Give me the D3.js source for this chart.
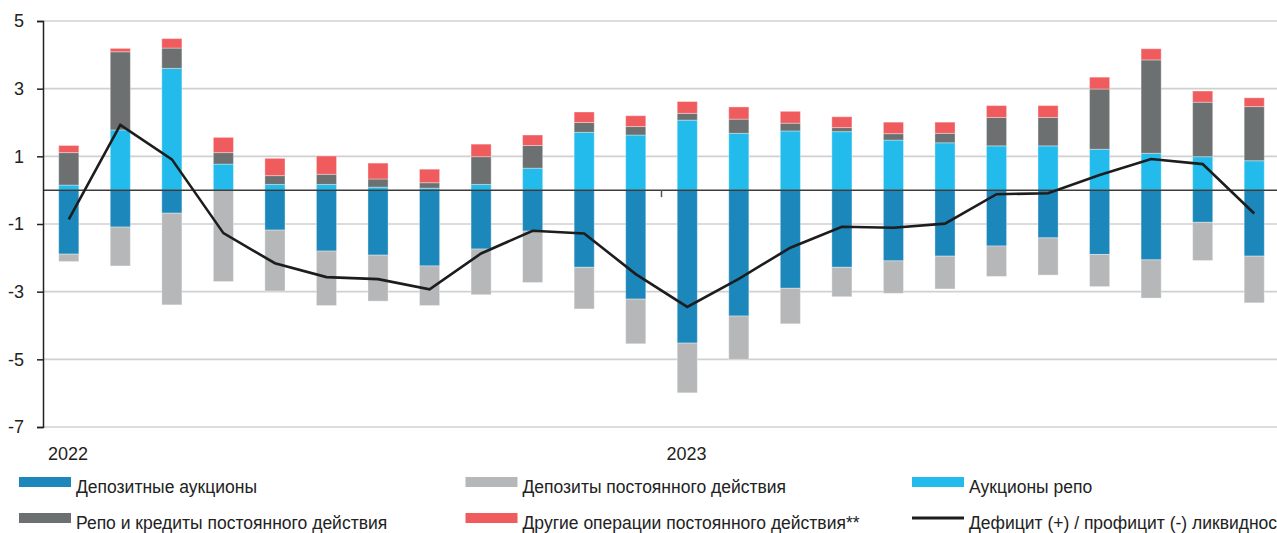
<!DOCTYPE html>
<html>
<head>
<meta charset="utf-8">
<script src="https://cdn.jsdelivr.net/npm/d3@7"></script>
<style>
    body { margin: 0; background: #fff; }
    svg text { font-family: "Liberation Sans Narrow", "Liberation Sans", Arial, sans-serif; fill: #222; }
</style>
</head>
<body>
<div id="chart"></div>
<script>
// Months, Jan 2022 .. Dec 2023
var months = ["2022-01", "2022-02", "2022-03", "2022-04", "2022-05", "2022-06",
              "2022-07", "2022-08", "2022-09", "2022-10", "2022-11", "2022-12",
              "2023-01", "2023-02", "2023-03", "2023-04", "2023-05", "2023-06",
              "2023-07", "2023-08", "2023-09", "2023-10", "2023-11", "2023-12"];
var year_labels = [["2022", "2022-01"], ["2023", "2023-01"]];
var y_ticks = [5, 3, 1, -1, -3, -5, -7];

// Trillion roubles
var deposit_auctions = [-1.89, -1.09, -0.68, 0, -1.18, -1.80, -1.92, -2.24, -1.74, -1.21, -2.28, -3.22,
                        -4.52, -3.72, -2.90, -2.28, -2.09, -1.95, -1.65, -1.41, -1.90, -2.06, -0.95, -1.95];
var standing_deposits = [-0.22, -1.15, -2.71, -2.70, -1.80, -1.61, -1.36, -1.17, -1.35, -1.52, -1.23, -1.32,
                         -1.47, -1.28, -1.05, -0.87, -0.96, -0.97, -0.90, -1.10, -0.95, -1.13, -1.13, -1.38];
var repo_auctions = [0.15, 1.78, 3.60, 0.77, 0.17, 0.17, 0.09, 0.06, 0.17, 0.65, 1.71, 1.63,
                     2.07, 1.68, 1.75, 1.73, 1.48, 1.40, 1.31, 1.31, 1.21, 1.09, 0.99, 0.87];
var repo_credits = [0.96, 2.31, 0.60, 0.34, 0.26, 0.30, 0.24, 0.16, 0.82, 0.67, 0.29, 0.25,
                    0.20, 0.42, 0.23, 0.12, 0.19, 0.28, 0.84, 0.84, 1.78, 2.76, 1.61, 1.60];
var other_ops = [0.21, 0.10, 0.28, 0.45, 0.51, 0.54, 0.47, 0.40, 0.37, 0.31, 0.31, 0.32,
                 0.35, 0.36, 0.35, 0.32, 0.34, 0.33, 0.35, 0.35, 0.35, 0.33, 0.33, 0.26];
var liquidity = [-0.86, 1.93, 0.91, -1.27, -2.16, -2.57, -2.63, -2.93, -1.87, -1.20, -1.28, -2.48,
                 -3.45, -2.62, -1.70, -1.08, -1.11, -0.99, -0.12, -0.09, 0.45, 0.92, 0.77, -0.69];

var series = [
    {name: "Депозитные аукционы", values: deposit_auctions, colour: "#1b87bb"},
    {name: "Депозиты постоянного действия", values: standing_deposits, colour: "#b6b7b9"},
    {name: "Аукционы репо", values: repo_auctions, colour: "#22bbec"},
    {name: "Репо и кредиты постоянного действия", values: repo_credits, colour: "#6d7070"},
    {name: "Другие операции постоянного действия**", values: other_ops, colour: "#f05b5e"}
];
var line_name = "Дефицит (+) / профицит (-) ликвидности";

var width = 1277, height = 533;
var plot_left = 43, plot_right = 1280, plot_top = 21, plot_bottom = 427;

var svg = d3.select("#chart").append("svg")
    .attr("width", width)
    .attr("height", height);

var x = d3.scaleBand()
    .domain(months)
    .range([plot_left, plot_right])
    .paddingInner(0.61)
    .paddingOuter(0.305);
var y = d3.scaleLinear()
    .domain([-7, 5])
    .range([plot_bottom, plot_top]);

// Gridlines
svg.append("g").selectAll("line")
    .data(y_ticks)
    .enter().append("line")
    .attr("x1", plot_left).attr("x2", width)
    .attr("y1", function(d) { return y(d); })
    .attr("y2", function(d) { return y(d); })
    .style("stroke", "#d0d0d0")
    .style("stroke-width", 1.6);

// Stack positives upward and negatives downward
var rows = months.map(function(m, i) {
    var row = {month: m};
    series.forEach(function(s) { row[s.name] = s.values[i]; });
    return row;
});
var stack = d3.stack()
    .keys(series.map(function(s) { return s.name; }))
    .offset(d3.stackOffsetDiverging);
var layers = stack(rows);

svg.append("g").selectAll("g")
    .data(layers)
    .enter().append("g")
    .style("fill", function(d, i) { return series[i].colour; })
    .selectAll("rect")
    .data(function(d) { return d; })
    .enter().append("rect")
    .attr("x", function(d) { return x(d.data.month); })
    .attr("width", x.bandwidth())
    .attr("y", function(d) { return y(d[1]); })
    .attr("height", function(d) { return Math.abs(y(d[0]) - y(d[1])); })
    .style("stroke", "rgba(255,255,255,0.35)")
    .style("stroke-width", 1);

// Zero line
svg.append("line")
    .attr("x1", plot_left).attr("x2", width)
    .attr("y1", y(0)).attr("y2", y(0))
    .style("stroke", "#3c3c3c")
    .style("stroke-width", 1.5);

// Year boundary tick and labels
var boundary = function(m) { return x(m) + x.bandwidth() / 2 - x.step() / 2; };
svg.append("line")
    .attr("x1", boundary("2023-01")).attr("x2", boundary("2023-01"))
    .attr("y1", y(0)).attr("y2", y(0) + 7)
    .style("stroke", "#555")
    .style("stroke-width", 1.5);
svg.append("g").selectAll("text")
    .data(year_labels)
    .enter().append("text")
    .attr("x", function(d) { return boundary(d[1]) + 5; })
    .attr("y", 460)
    .style("font-size", "18px")
    .text(function(d) { return d[0]; });

// Y axis (plain hyphen for negatives, as in the source)
var y_axis = svg.append("g")
    .attr("transform", "translate(" + plot_left + ",0)")
    .call(d3.axisLeft(y)
        .tickValues(y_ticks)
        .tickFormat(function(d) { return String(d); })
        .tickSize(6)
        .tickPadding(13));
y_axis.select(".domain").style("stroke", "#222").style("stroke-width", 1.5);
y_axis.selectAll(".tick line").style("stroke", "#222").style("stroke-width", 1.5);
y_axis.selectAll(".tick text")
    .style("font-size", "18px")
    .style("font-family", "'Liberation Sans Narrow', 'Liberation Sans', sans-serif")
    .style("fill", "#222");

// Liquidity line
var line = d3.line()
    .x(function(d, i) { return x(months[i]) + x.bandwidth() / 2; })
    .y(function(d) { return y(d); });
svg.append("path")
    .datum(liquidity)
    .attr("d", line)
    .style("fill", "none")
    .style("stroke", "#1d1d1d")
    .style("stroke-width", 2.6);

// Legend: 3 columns x 2 rows
var legend_items = series.map(function(s) { return {name: s.name, colour: s.colour, type: "rect"}; });
legend_items.push({name: line_name, colour: "#1d1d1d", type: "line"});
var legend = svg.selectAll(".legend")
    .data(legend_items)
    .enter().append("g")
    .attr("class", "legend")
    .attr("transform", function(d, i) {
        var horz = 19 + (i % 3) * 446.5;
        var vert = 482 + Math.floor(i / 3) * 36;
        return "translate(" + horz + "," + vert + ")";
    });
legend.filter(function(d) { return d.type === "rect"; })
    .append("rect")
    .attr("y", -5)
    .attr("width", 52)
    .attr("height", 10)
    .style("fill", function(d) { return d.colour; });
legend.filter(function(d) { return d.type === "line"; })
    .append("line")
    .attr("x1", 0).attr("x2", 52)
    .style("stroke", function(d) { return d.colour; })
    .style("stroke-width", 3);
legend.append("text")
    .attr("x", 57)
    .attr("y", 11)
    .style("font-size", "17.5px")
    .text(function(d) { return d.name; });
</script>
</body>
</html>
